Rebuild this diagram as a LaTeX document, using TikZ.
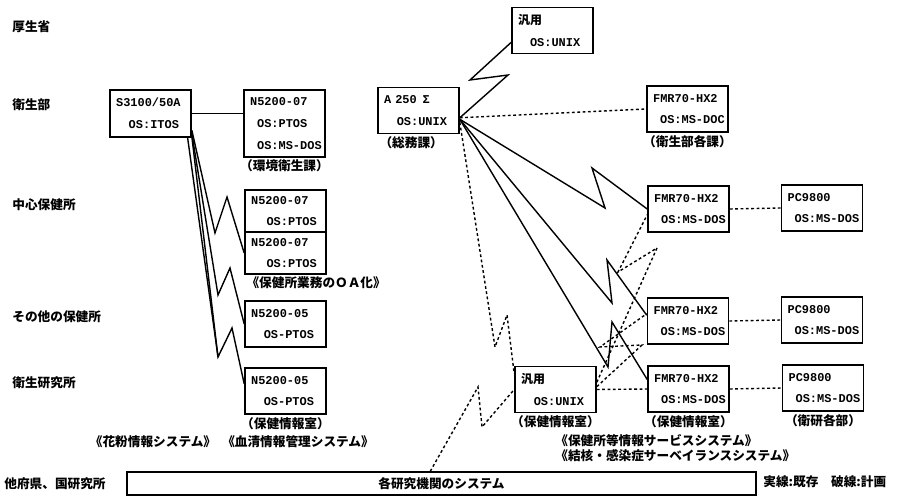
\documentclass[tikz,border=0pt]{standalone}
\usepackage{fontspec}
\setmainfont{Noto Sans CJK JP}
\setmonofont{Liberation Mono}
\usetikzlibrary{positioning}

\begin{document}
\begin{tikzpicture}[
  x=0.025cm,y=-0.025cm,
  font=\fontsize{9}{11}\selectfont\bfseries,
  pc/.style={draw,line width=1pt,minimum width=2.03cm,minimum height=1.15cm,
             inner xsep=0pt,inner ysep=1pt,text width=1.72cm,align=left,
             font=\fontsize{8.5}{15.5}\selectfont\ttfamily\bfseries},
  pctall/.style={pc,minimum height=1.67cm},
  pchalf/.style={pc,minimum height=1.05cm,font=\fontsize{8.5}{14.5}\selectfont\ttfamily\bfseries},
  tag/.style={font=\fontsize{9}{11}\selectfont\rmfamily\bfseries,inner sep=1.5pt},
  org/.style={tag,anchor=west},
  wire/.style={line width=1pt},
  plan/.style={line width=1pt,dash pattern=on 2pt off 1.8pt}
]
  \useasboundingbox (0,0) rectangle (898,497);

  \node[org] (mhw)   at (10,27)  {厚生省};
  \node[org] (eisei) at (10,105) {衛生部};
  \node[org] (chusin) at (10,205) {中心保健所};
  \node[org] (sonota) at (10,317) {その他の保健所};
  \node[org] (eiken) at (10,383) {衛生研究所};
  \node[org] (tafu)  at (2,484)  {他府県、国研究所};

  \node[pc,minimum height=1.17cm] (s3100) at (150.5,113.5) {S3100/50A\\\hspace*{9pt}OS:ITOS};
  \node[pctall,label={[tag]below:（環境衛生課）}] (n07a) at (284.5,123.5)
    {N5200-07\\\hspace*{5pt}OS:PTOS\\\hspace*{5pt}OS:MS-DOS};
  \node[pchalf] (n07b) at (285.5,211) {N5200-07\\\hspace*{11pt}OS:PTOS};
  \node[pchalf] (n07c) at (285.5,253) {N5200-07\\\hspace*{11pt}OS:PTOS};
  \node[tag,anchor=north west] (oaka) at (n07c.south west) {《保健所業務のＯＡ化》};
  \node[pc] (n05a) at (285.5,324) {N5200-05\\\hspace*{9pt}OS-PTOS};
  \node[pc,label={[tag]below:（保健情報室）}] (n05b) at (285.5,391) {N5200-05\\\hspace*{9pt}OS-PTOS};

  \node[pc] (a250) at (418.5,110.5) {A 250 \,Σ\\\hspace*{9pt}OS:UNIX};
  \node[tag,anchor=north west] (somu) at (a250.south west) {（総務課）};
  \node[pc] (unixtop) at (552.5,30.5) {{\rmfamily 汎用}\\\hspace*{8.5pt}OS:UNIX};
  \node[pc,label={[tag]below:（衛生部各課）}] (fmr1) at (687.5,109) {FMR70-HX2\\\hspace*{5pt}OS:MS-DOC};
  \node[pc] (fmr2) at (688.5,209) {FMR70-HX2\\\hspace*{5pt}OS:MS-DOS};
  \node[pc] (pc1)  at (822,208)   {PC9800\\\hspace*{5pt}OS:MS-DOS};
  \node[pc] (fmr3) at (688,321)   {FMR70-HX2\\\hspace*{5pt}OS:MS-DOS};
  \node[pc] (pc2)  at (822,320)   {PC9800\\\hspace*{5pt}OS:MS-DOS};
  \node[pc,label={[tag]below:（保健情報室）}] (unixlow) at (555.5,389.5) {{\rmfamily 汎用}\\\hspace*{9pt}OS:UNIX};
  \node[pc,label={[tag]below:（保健情報室）}] (fmr4) at (688.5,389) {FMR70-HX2\\\hspace*{5pt}OS:MS-DOS};
  \node[pc,label={[tag]below:（衛研各部）}] (pc3) at (823,388) {PC9800\\\hspace*{5pt}OS:MS-DOS};

  \node[draw,line width=1pt,minimum width=15.72cm,minimum height=0.575cm] (sysbox)
    at (441.5,483.5) {各研究機関のシステム};

  \node[tag] (kafun) at (153,442) {《花粉情報システム》};
  \node[tag] (kessei) at (298,442) {《血清情報管理システム》};
  \node[tag,anchor=west] (hokensvc) at (553,441) {《保健所等情報サービスシステム》};
  \node[tag,anchor=west] (kekkaku) at (553,456) {《結核・感染症サーベイランスシステム》};
  \node[tag,anchor=west] (legend) at (761,482) {実線:既存\hspace{1em}破線:計画};

  \draw[wire] (s3100.east) -- (s3100.east -| n07a.west);
  \draw[wire] (s3100.-22) -- (215,233) -- (227,197) -- (n07c.west);
  \draw[wire] (s3100.-26) -- (218,295) -- (230,268) -- (n05a.west);
  \draw[wire] (s3100.-29) -- (218,357) -- (232,328) -- (n05b.170);
  \draw[wire] ([xshift=-3pt]s3100.south east) -- (218,357);

  \draw[wire] (a250.-10) -- (508,75) -- (470,80) -- (unixtop.196);
  \draw[wire] (a250.-12) -- (605,208) -- (592,168) -- (fmr2.west);
  \draw[wire] (a250.-12) -- (612,303) -- (607,260) -- (fmr3.172);
  \draw[wire] (a250.-12) -- (608,367) -- (612,322) -- (fmr4.167);

  \draw[plan] (a250.-10) -- (fmr1.west);
  \draw[plan] (a250.-16) -- (495,347) -- (507,315) -- (unixlow.159);
  \draw[plan] ([xshift=-8pt]sysbox.north) -- (478,387) -- (482,427) -- (unixlow.west);
  \draw[plan] (unixlow.east) -- (fmr4.west);
  \draw[plan] (unixlow.10) -- (657,248) -- (618,272) -- (fmr2.188);
  \draw[plan] (unixlow.4) -- (642,345) -- (600,347) -- (fmr3.170);
  \draw[plan] (fmr2.east) -- (pc1.west);
  \draw[plan] (fmr3.east) -- (pc2.west);
  \draw[plan] (fmr4.east) -- (pc3.west);
\end{tikzpicture}
\end{document}
